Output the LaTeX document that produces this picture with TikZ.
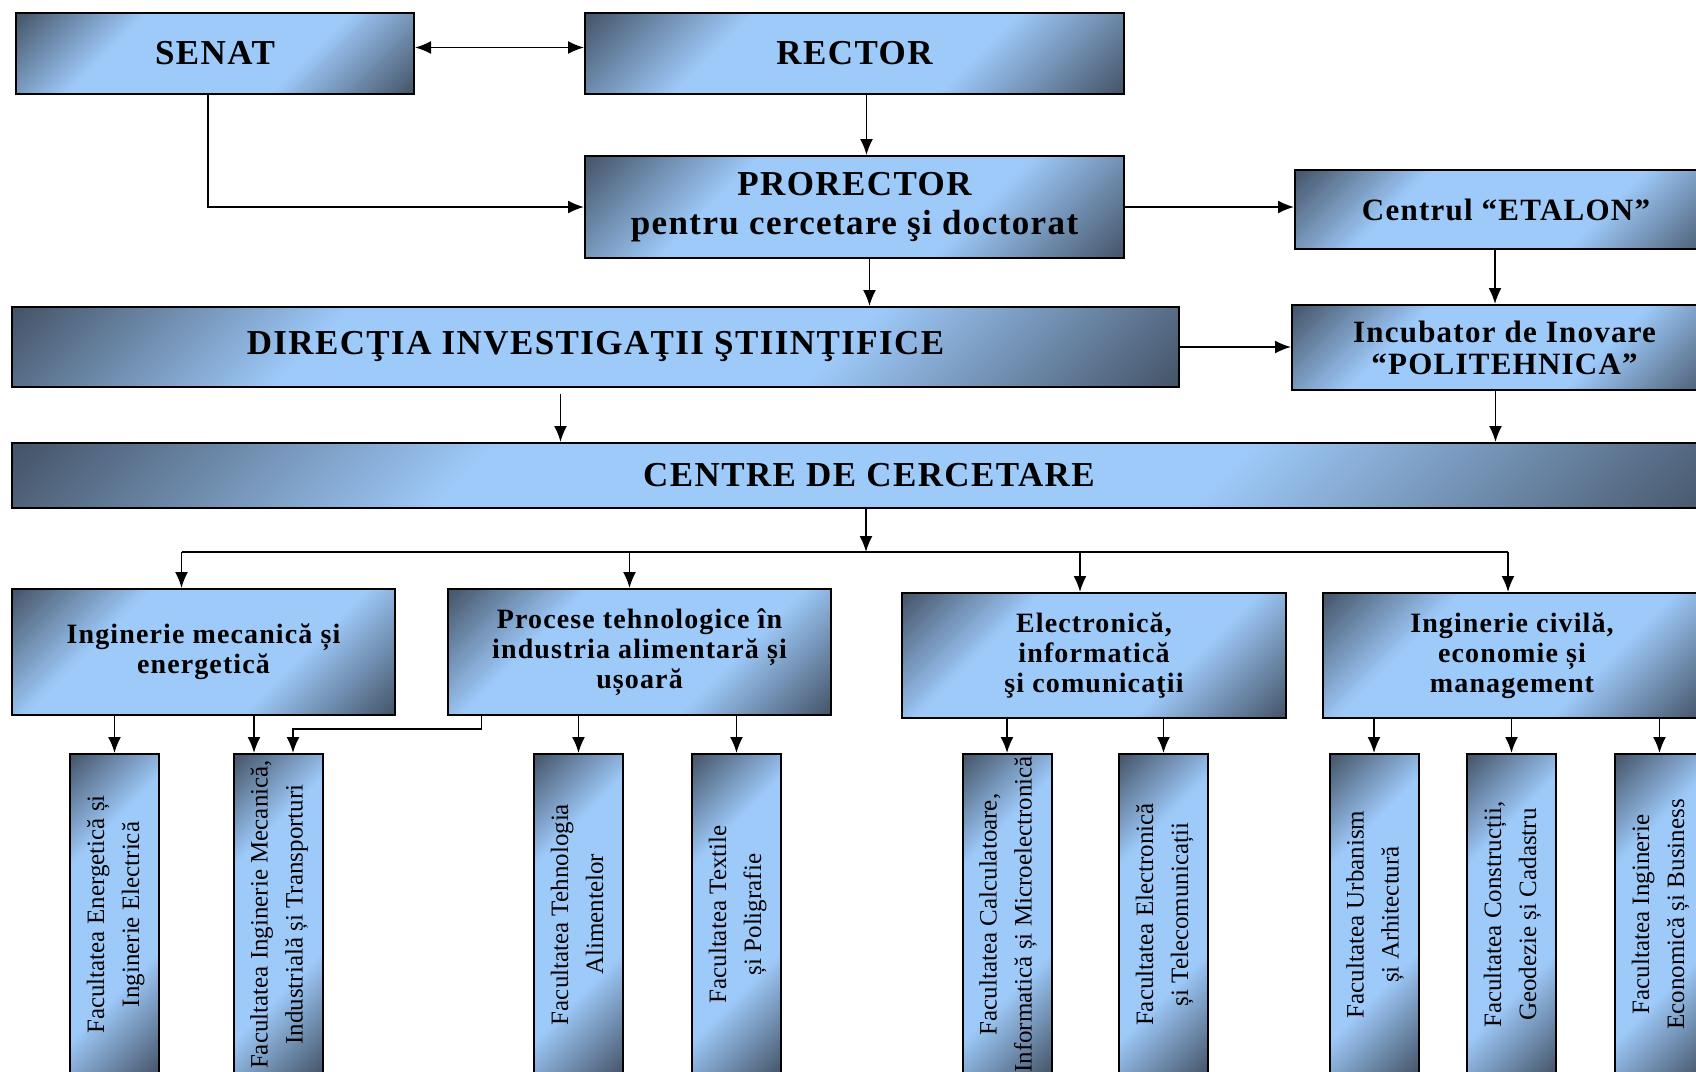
\documentclass[tikz,border=0pt]{standalone}
\usepackage{graphicx}
\usepackage{fontspec}
\setmainfont{Liberation Serif}
\usetikzlibrary{positioning,arrows.meta}

\definecolor{boxlight}{RGB}{158,202,250}
\definecolor{boxdark}{RGB}{70,86,106}
\pgfdeclarehorizontalshading{boxshade}{100bp}{color(0bp)=(boxdark); color(15bp)=(boxdark); color(34bp)=(boxlight); color(64bp)=(boxlight); color(85bp)=(boxdark); color(100bp)=(boxdark)}
\newcommand{\vtext}[1]{\rotatebox{90}{\begin{tabular}{@{}c@{}}#1\end{tabular}}}

\begin{document}
\begin{tikzpicture}[x=1pt, y=-1pt,
        box/.style={draw, line width=2pt, shade, shading=boxshade, shading angle=-45, align=center, inner sep=0pt, font=\bfseries\fontsize{35}{39}\selectfont\addfontfeatures{LetterSpace=4}},
        subbox/.style={box, font=\bfseries\fontsize{31}{32}\selectfont\addfontfeatures{LetterSpace=4}},
        grp/.style={box, minimum width=383, minimum height=126, font=\bfseries\fontsize{28}{30}\selectfont\addfontfeatures{LetterSpace=4}},
        fac/.style={box, minimum width=89, minimum height=321, font=\fontsize{25}{35}\selectfont},
        link/.style={line width=1.8pt},
        >={Latex[length=16pt, width=13pt]}
    ]
    \path[use as bounding box] (0,0) rectangle (1696,1071);
    \clip (0,0) rectangle (1696,1071);

    \node[box, minimum width=398, minimum height=81]    (senat)     at (215,53.5)   {SENAT};
    \node[box, minimum width=539, minimum height=81]    (rector)    at (854.5,53.5) {RECTOR};
    \node[box, minimum width=539, minimum height=102]   (prorector) at (854.5,207)  {PRORECTOR\\pentru cercetare şi doctorat};
    \node[subbox, minimum width=422, minimum height=79] (etalon)    at (1506,209.5) {Centrul “ETALON”};
    \node[box, minimum width=1167, minimum height=80]   (directia)  at (595.5,347)  {DIRECŢIA INVESTIGAŢII ŞTIINŢIFICE};
    \node[subbox, minimum width=425, minimum height=85] (incub)     at (1504.5,347.5) {Incubator de Inovare\\“POLITEHNICA”};
    \node[box, minimum width=1714, minimum height=65]   (centre)    at (869,475.5)  {CENTRE DE CERCETARE};

    \node[grp] (g1) at (203.5,652) {Inginerie mecanică și\\energetică};
    \node[grp] (g2) at (639.5,652) {Procese tehnologice în\\industria alimentară și\\ușoară};
    \node[grp, minimum width=384, minimum height=125] (g3) at (1094,655.5) {Electronică,\\informatică\\şi comunicaţii};
    \node[grp, minimum width=378, minimum height=125] (g4) at (1512,655.5) {Inginerie civilă,\\economie și\\management};

    \node[fac] (f1) at (114.5,914.5)  {\vtext{Facultatea Energetică și\\Inginerie Electrică}};
    \node[fac] (f2) at (278,914.5)    {\vtext{Facultatea Inginerie Mecanică,\\Industrială și Transporturi}};
    \node[fac] (f3) at (578.5,914.5)  {\vtext{Facultatea Tehnologia\\Alimentelor}};
    \node[fac] (f4) at (736.5,914.5)  {\vtext{Facultatea Textile\\și Poligrafie}};
    \node[fac] (f5) at (1007,914.5)   {\vtext{Facultatea Calculatoare,\\Informatică și Microelectronică}};
    \node[fac] (f6) at (1163.5,914.5) {\vtext{Facultatea Electronică\\și Telecomunicații}};
    \node[fac] (f7) at (1374,914.5)   {\vtext{Facultatea Urbanism\\și Arhitectură}};
    \node[fac] (f8) at (1511.5,914.5) {\vtext{Facultatea Construcții,\\Geodezie și Cadastru}};
    \node[fac] (f9) at (1659.5,914.5) {\vtext{Facultatea Inginerie\\Economică și Business}};

    % top part
    \draw[link, <->] ([yshift=6]senat.east) -- ([yshift=6]senat.east -| rector.west);
    \draw[link, ->] ([xshift=12]rector.south) -- ([xshift=12]rector.south |- prorector.north);
    \draw[link, ->] ([xshift=-7]senat.south) |- (prorector.west);
    \draw[link, ->] (prorector.east) -- (prorector.east -| etalon.west);
    \draw[link, ->] ([xshift=15]prorector.south) -- ([xshift=15]prorector.south |- directia.north);
    \draw[link, ->] ([xshift=-11]etalon.south) -- ([xshift=-11]etalon.south |- incub.north);
    \draw[link, ->] (directia.east) -- (directia.east -| incub.west);
    \draw[link, ->] ([xshift=-35,yshift=-6]directia.south) -- ([xshift=-35]directia.south |- centre.north);
    \draw[link, ->] ([xshift=-9]incub.south) -- ([xshift=-9]incub.south |- centre.north);

    % centres to groups
    \coordinate (bus) at (866,552);
    \draw[link, ->] (centre.south -| bus) -- (bus);
    \draw[link] ([xshift=-22]g1.north |- bus) -- ([xshift=-4]g4.north |- bus);
    \foreach \g/\dx in {g1/-22, g2/-10, g3/-14, g4/-4}
        \draw[link, ->] ([xshift=\dx]\g.north |- bus) -- ([xshift=\dx]\g.north);

    % groups to faculties
    \foreach \g/\f in {g1/f1, g2/f3, g2/f4, g3/f5, g3/f6, g4/f7, g4/f8, g4/f9}
        \draw[link, ->] (\g.south -| \f.north) -- (\f.north);
    \draw[link, ->] ([xshift=-24]f2.north |- g1.south) -- ([xshift=-24]f2.north);
    \draw[link, ->] ([xshift=-158]g2.south) -- ++(0,13) -| ([xshift=15]f2.north);
\end{tikzpicture}
\end{document}
